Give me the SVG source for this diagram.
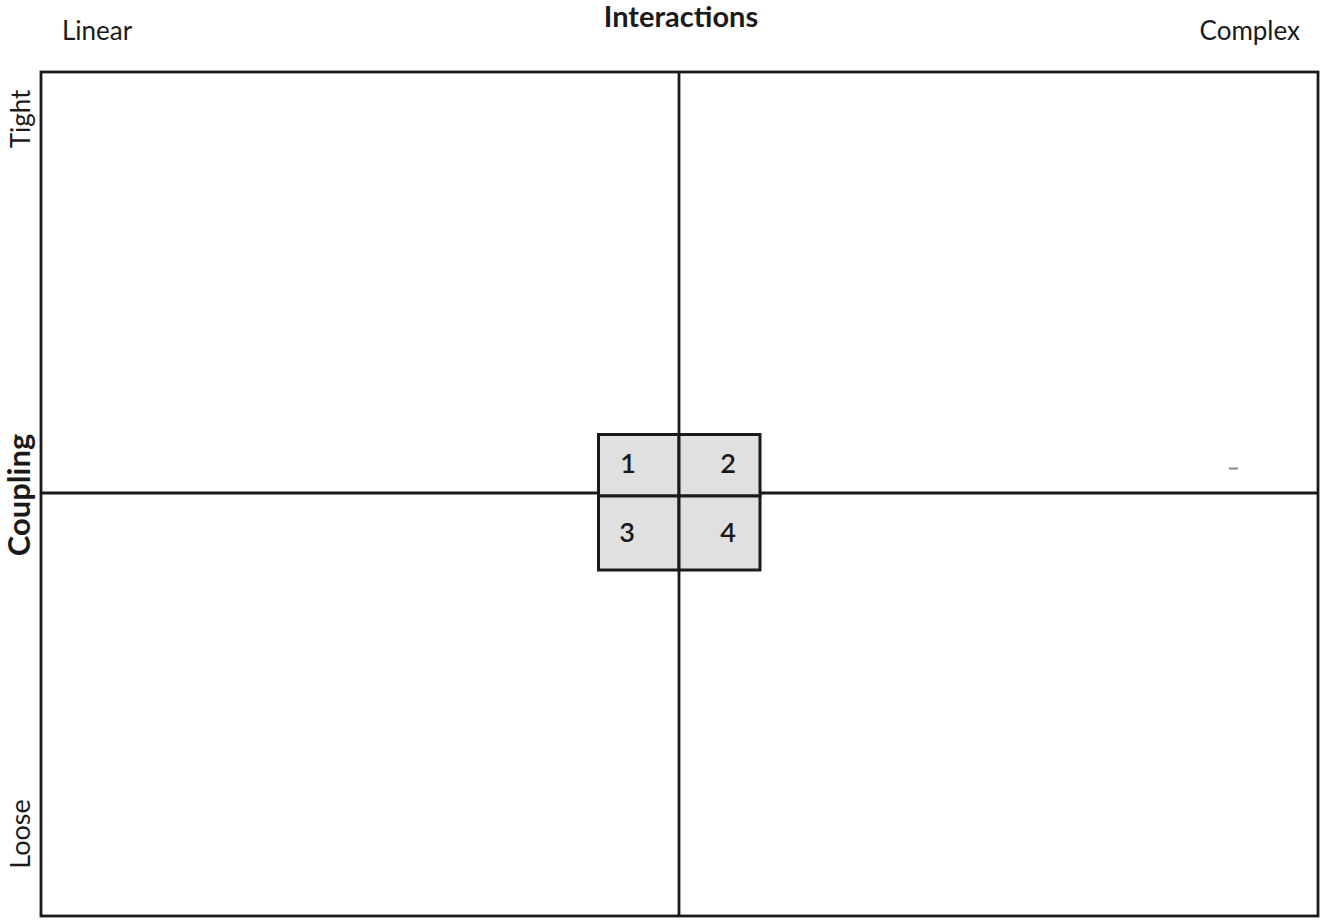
<svg xmlns="http://www.w3.org/2000/svg" width="1320" height="920" viewBox="0 0 1320 920">
<style>
.t{font-family:Lato,"Open Sans","Liberation Sans",sans-serif;font-size:26px;fill:#1a1a1a}
.b{font-weight:bold}
.ln{stroke:#1a1a1a;stroke-width:2.8;fill:none}
.cell{fill:#e0e0e0;stroke:#1a1a1a;stroke-width:3}
.n{font-size:27px;font-weight:600}
</style>
<rect width="1320" height="920" fill="#fff"/>
<g id="frame">
<rect class="ln" x="41" y="72" width="1277" height="844"/>
</g>
<g id="axes">
<line class="ln" x1="679" y1="72" x2="679" y2="916"/>
<line class="ln" x1="41" y1="493" x2="1318" y2="493"/>
</g>
<g id="labels">
<text class="t" x="62" y="40">Linear</text>
<text class="t b" x="681" y="27" text-anchor="middle" style="font-size:29px">Interactions</text>
<text class="t" x="1300" y="40" text-anchor="end">Complex</text>
<text class="t" transform="translate(30,119) rotate(-90)" text-anchor="middle">Tight</text>
<text class="t b" transform="translate(30,495) rotate(-90)" text-anchor="middle" style="font-size:31px">Coupling</text>
<text class="t" transform="translate(30,834) rotate(-90)" text-anchor="middle" style="font-size:27px">Loose</text>
</g>
<g id="cell1"><rect class="cell" x="598.5" y="434.5" width="80.5" height="61.5"/><text class="t n" x="628" y="473" text-anchor="middle">1</text></g>
<g id="cell2"><rect class="cell" x="679" y="434.5" width="81" height="61.5"/><text class="t n" x="728" y="473" text-anchor="middle">2</text></g>
<g id="cell3"><rect class="cell" x="598.5" y="496" width="80.5" height="74"/><text class="t n" x="627" y="542" text-anchor="middle">3</text></g>
<g id="cell4"><rect class="cell" x="679" y="496" width="81" height="74"/><text class="t n" x="728" y="542" text-anchor="middle">4</text></g>
<line x1="1229" y1="468.5" x2="1238" y2="468.5" stroke="#888" stroke-width="2"/>
</svg>
